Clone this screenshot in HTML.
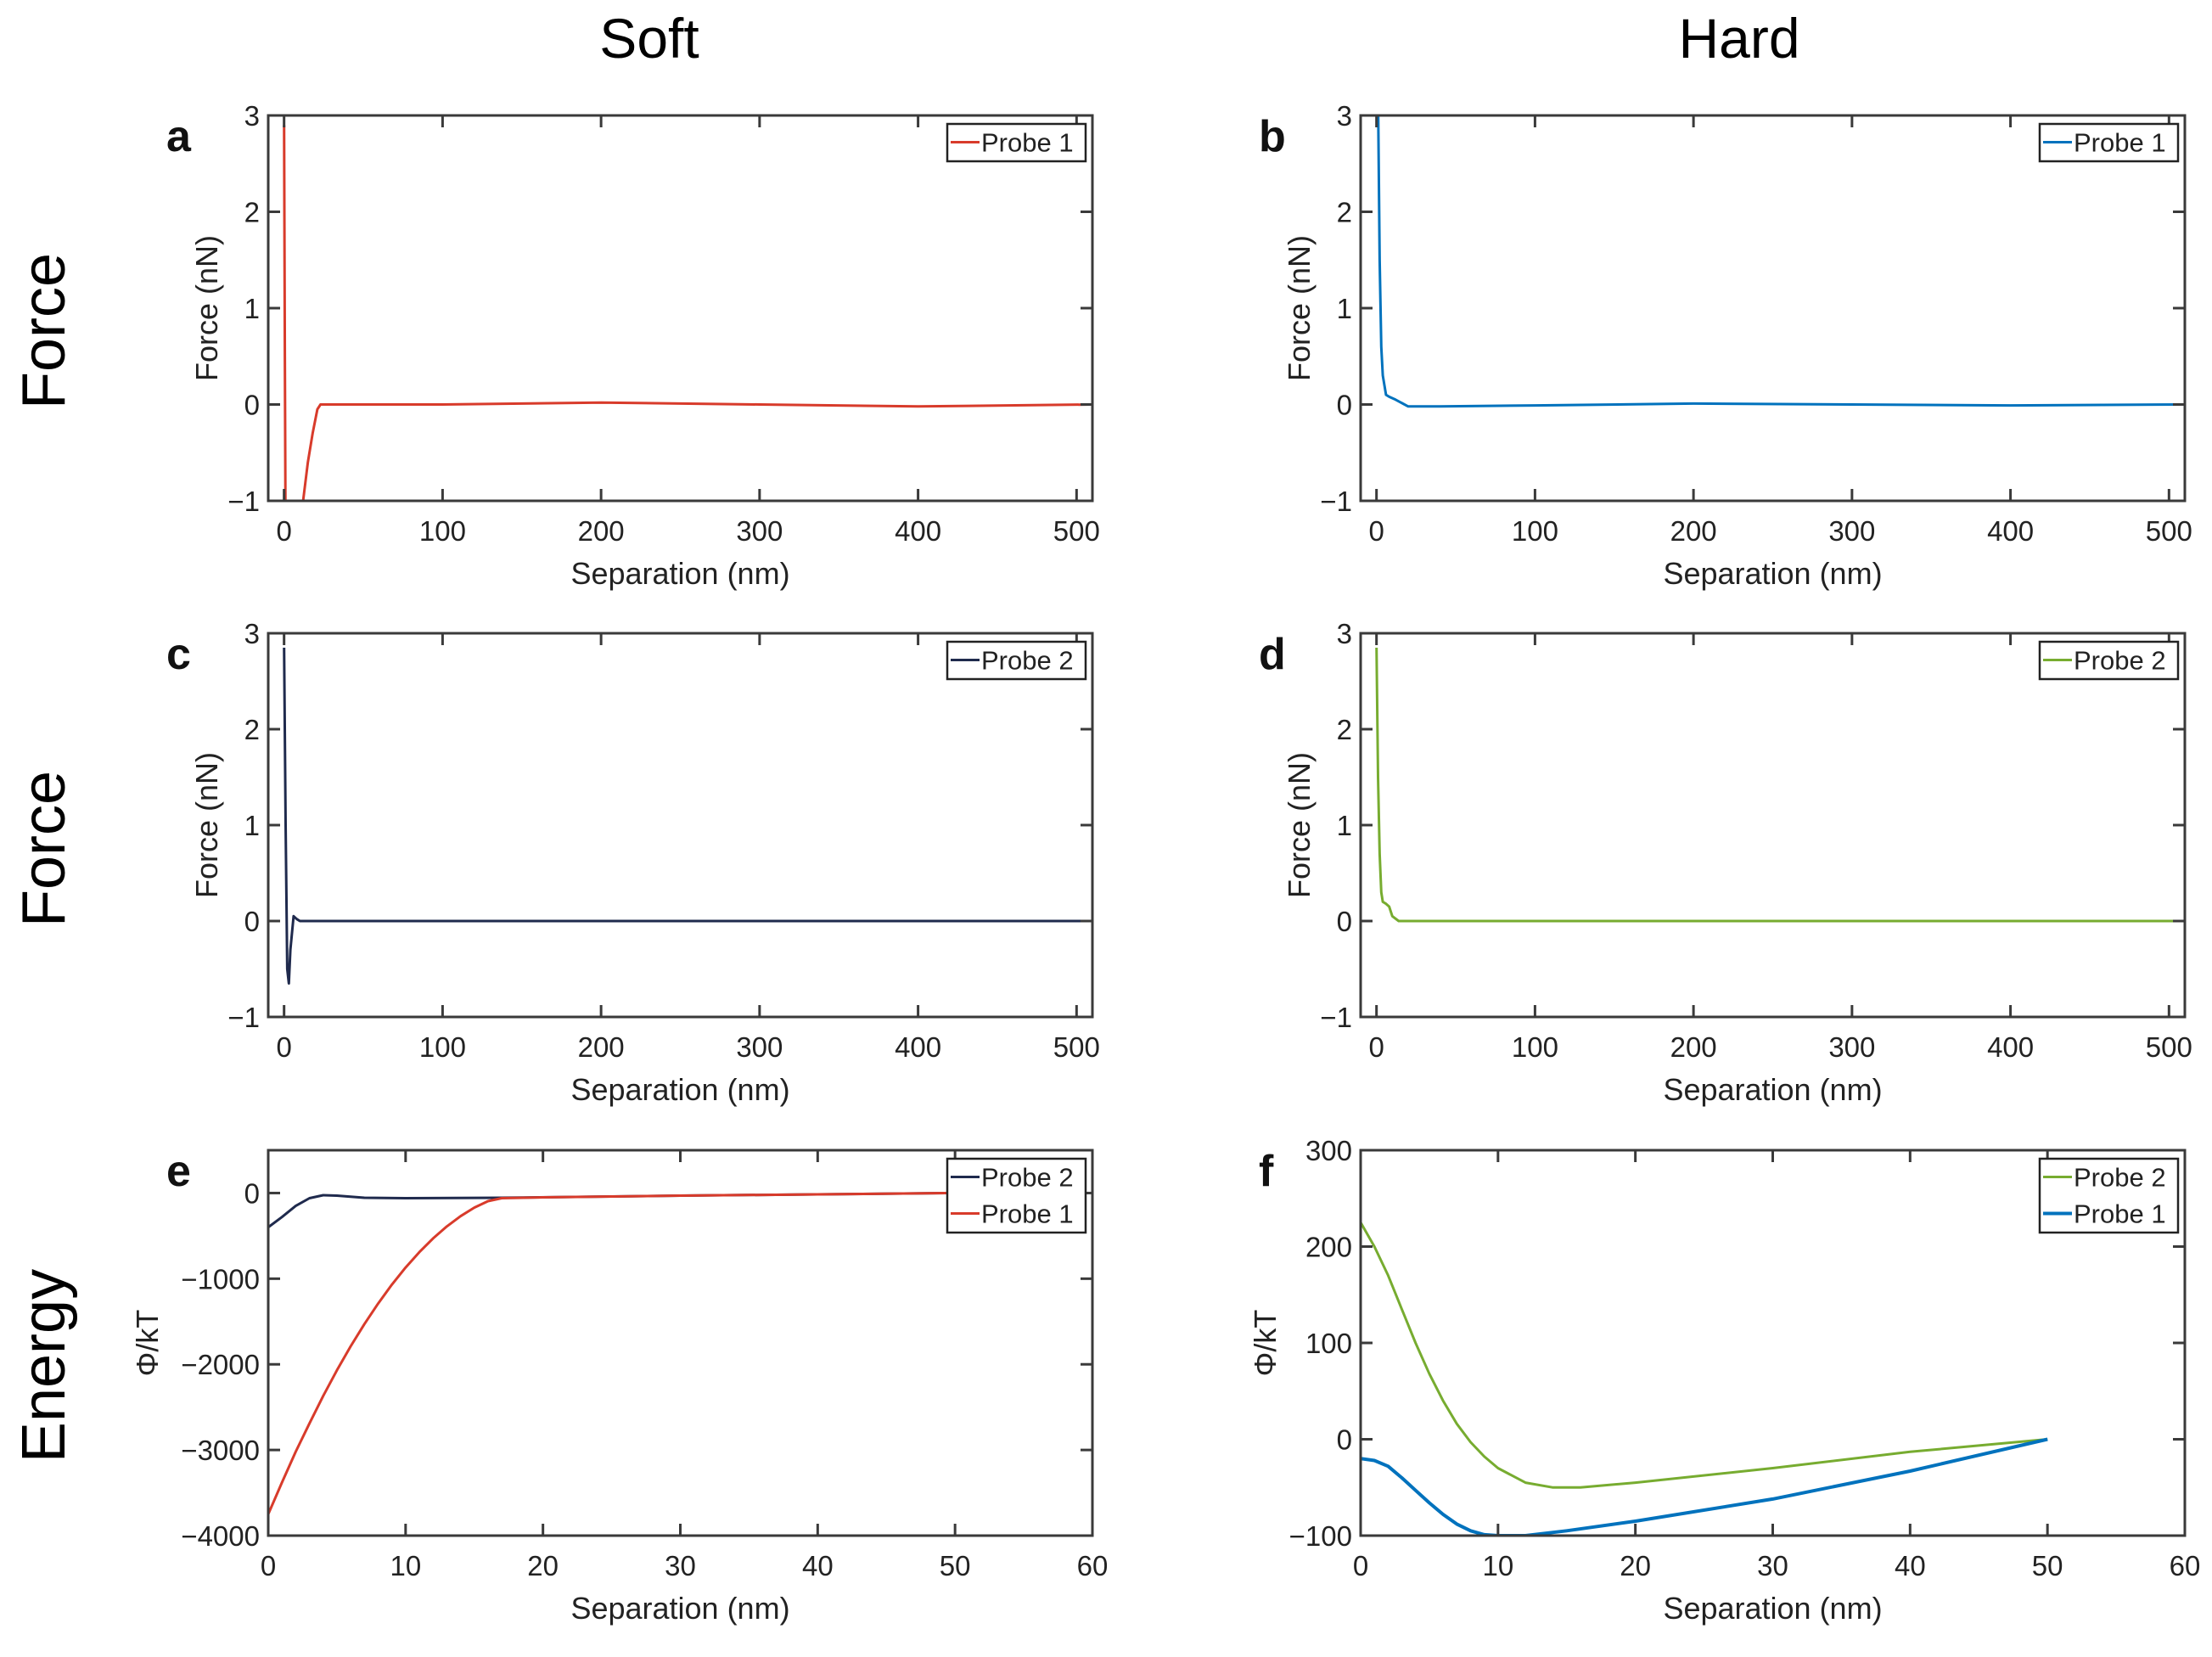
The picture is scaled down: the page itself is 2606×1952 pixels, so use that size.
<!DOCTYPE html>
<html><head><meta charset="utf-8"><style>
html,body{margin:0;padding:0;background:#fff;}
svg{display:block;font-family:"Liberation Sans",Arial,sans-serif;}
</style></head><body>
<svg id="fig" width="2606" height="1952" viewBox="0 0 2606 1952" xmlns="http://www.w3.org/2000/svg">
<text x="765" y="68" font-size="66" text-anchor="middle">Soft</text>
<text x="2049" y="68" font-size="66" text-anchor="middle">Hard</text>
<text transform="translate(76,390) rotate(-90)" font-size="72" text-anchor="middle">Force</text>
<text transform="translate(76,1000) rotate(-90)" font-size="72" text-anchor="middle">Force</text>
<text transform="translate(76,1609) rotate(-90)" font-size="72" text-anchor="middle">Energy</text>
</svg>
<script>
// ---- data ----
const forceXTicks=[0,100,200,300,400,500];
const forceYTicks=[-1,0,1,2,3];
const energyXTicks=[0,10,20,30,40,50,60];
const softEnergyYTicks=[-4000,-3000,-2000,-1000,0];
const hardEnergyYTicks=[-100,0,100,200,300];

const aX=[0,0.5,1,12,15,18,21,23,100,200,300,400,510];
const aY=[2.9,0.5,-1.5,-1,-0.6,-0.3,-0.05,0,0,0.02,0,-0.02,0];
const bX=[0,1,2,3,4,6,8,12,20,40,100,200,300,400,510];
const bY=[3.5,3.2,1.5,0.6,0.3,0.1,0.08,0.05,-0.02,-0.02,-0.01,0.01,0,-0.01,0];
const cX=[0,1,2,3,4,6,8,10,20,510];
const cY=[2.85,1,-0.5,-0.65,-0.3,0.05,0.02,0,0,0];
const dX=[0,1,2,3,4,6,8,10,14,20,510];
const dY=[2.85,1.5,0.7,0.3,0.2,0.18,0.15,0.05,0,0,0];
const eP2X=[0,1,2,3,4,5,7,10,17,30,40,50];
const eP2Y=[-400,-280,-150,-60,-25,-30,-55,-60,-55,-30,-15,0];
const eP1X=[0,1,2,3,4,5,6,7,8,9,10,11,12,13,14,15,16,17,20,30,40,50];
const eP1Y=[-3750,-3380,-3020,-2690,-2370,-2070,-1790,-1530,-1290,-1070,-870,-690,-530,-390,-270,-170,-95,-60,-50,-30,-15,0];
const fP2X=[0,1,2,3,4,5,6,7,8,9,10,12,14,16,20,30,40,50];
const fP2Y=[225,200,170,135,100,68,40,16,-3,-18,-30,-45,-50,-50,-45,-30,-13,0];
const fP1X=[0,1,2,3,4,5,6,7,8,9,10,12,15,20,30,40,50];
const fP1Y=[-20,-22,-28,-40,-53,-66,-78,-88,-95,-99,-100,-100,-95,-85,-62,-33,0];

const RED='#d83b2b', BLUE='#0072bd', NAVY='#1f2a4d', GREEN='#77ac30';
const NS='http://www.w3.org/2000/svg';
const svg=document.getElementById('fig');
function mk(tag,attrs,parent){const e=document.createElementNS(NS,tag);for(const k in attrs)e.setAttribute(k,attrs[k]);(parent||svg).appendChild(e);return e;}
let clipId=0;
function panel(o){
  const g=mk('g',{});
  
  
  const sx=v=>o.x0+(v-o.xlim[0])/(o.xlim[1]-o.xlim[0])*(o.x1-o.x0);
  const sy=v=>o.y1-(v-o.ylim[0])/(o.ylim[1]-o.ylim[0])*(o.y1-o.y0);
  const id='clip'+(clipId++);
  const cp=mk('clipPath',{id:id},g);
  mk('rect',{x:o.x0,y:o.y0,width:o.x1-o.x0,height:o.y1-o.y0},cp);
  o.series.forEach(s=>{
    const d=s.x.map((v,i)=>(i?'L':'M')+sx(v).toFixed(1)+','+sy(s.y[i]).toFixed(1)).join(' ');
    const p=mk('path',{d:d,fill:'none',stroke:s.color,'stroke-width':s.w||3,'stroke-linejoin':'round','clip-path':'url(#'+id+')'},g);
    
    
  });
  const bx=mk('rect',{x:o.x0,y:o.y0,width:o.x1-o.x0,height:o.y1-o.y0,fill:'none',stroke:'#3a3a3a','stroke-width':3},g);
  
  
  const tl=14;
  o.xt.forEach(v=>{const X=sx(v);
    mk('line',{x1:X,y1:o.y1,x2:X,y2:o.y1-tl,stroke:'#3a3a3a','stroke-width':3},g);
    mk('line',{x1:X,y1:o.y0,x2:X,y2:o.y0+tl,stroke:'#3a3a3a','stroke-width':3},g);
    const t=mk('text',{x:X,y:o.y1+47,'font-size':33,'text-anchor':'middle',fill:'#222'},g);t.textContent=v;
    
    
  });
  o.yt.forEach(v=>{const Y=sy(v);
    mk('line',{x1:o.x0,y1:Y,x2:o.x0+tl,y2:Y,stroke:'#3a3a3a','stroke-width':3},g);
    mk('line',{x1:o.x1,y1:Y,x2:o.x1-tl,y2:Y,stroke:'#3a3a3a','stroke-width':3},g);
    const t=mk('text',{x:o.x0-10,y:Y+12,'font-size':33,'text-anchor':'end',fill:'#222'},g);t.textContent=(v<0?'\u2212'+(-v):v);
    
    
  });
  const xl=mk('text',{x:(o.x0+o.x1)/2,y:o.y1+98,'font-size':36,'text-anchor':'middle',fill:'#222'},g);xl.textContent='Separation (nm)';
  
  
  const yl=mk('text',{transform:'translate('+(o.x0-o.yoff)+','+((o.y0+o.y1)/2)+') rotate(-90)','font-size':36,'text-anchor':'middle',fill:'#222'},g);yl.textContent=o.ylabel;
  
  
  const lt=mk('text',{x:o.x0-120,y:o.y0+42,'font-size':52,'font-weight':'bold',fill:'#111'},g);lt.textContent=o.letter;
  
  
  const n=o.series.length, lh=43, lw=163;
  const lx=o.x1-lw-8, ly=o.y0+10;
  const lg=mk('g',{},g);
  
  
  mk('rect',{x:lx,y:ly,width:lw,height:n*lh+1,fill:'#fff',stroke:'#222','stroke-width':2.5},lg);
  o.series.forEach((s,i)=>{const cy=ly+lh/2+i*lh;
    mk('line',{x1:lx+4,y1:cy,x2:lx+38,y2:cy,stroke:s.color,'stroke-width':s.w||3},lg);
    const t=mk('text',{x:lx+40,y:cy+11,'font-size':31,fill:'#222'},lg);t.textContent=s.name;
    
    
  });
}
const L=[316,1287], R=[1603,2574];
const r1=[136,590], r2=[746,1198], r3=[1355,1809];
panel({letter:'a',yoff:60,x0:L[0],x1:L[1],y0:r1[0],y1:r1[1],xlim:[-10,510],ylim:[-1,3],xt:forceXTicks,yt:forceYTicks,ylabel:'Force (nN)',series:[{name:'Probe 1',x:aX,y:aY,color:RED}]});
panel({letter:'b',yoff:60,x0:R[0],x1:R[1],y0:r1[0],y1:r1[1],xlim:[-10,510],ylim:[-1,3],xt:forceXTicks,yt:forceYTicks,ylabel:'Force (nN)',series:[{name:'Probe 1',x:bX,y:bY,color:BLUE}]});
panel({letter:'c',yoff:60,x0:L[0],x1:L[1],y0:r2[0],y1:r2[1],xlim:[-10,510],ylim:[-1,3],xt:forceXTicks,yt:forceYTicks,ylabel:'Force (nN)',series:[{name:'Probe 2',x:cX,y:cY,color:NAVY}]});
panel({letter:'d',yoff:60,x0:R[0],x1:R[1],y0:r2[0],y1:r2[1],xlim:[-10,510],ylim:[-1,3],xt:forceXTicks,yt:forceYTicks,ylabel:'Force (nN)',series:[{name:'Probe 2',x:dX,y:dY,color:GREEN}]});
panel({letter:'e',yoff:130,x0:L[0],x1:L[1],y0:r3[0],y1:r3[1],xlim:[0,60],ylim:[-4000,500],xt:energyXTicks,yt:softEnergyYTicks,ylabel:'\u03A6/kT',series:[{name:'Probe 2',x:eP2X,y:eP2Y,color:NAVY},{name:'Probe 1',x:eP1X,y:eP1Y,color:RED}]});
panel({letter:'f',yoff:100,x0:R[0],x1:R[1],y0:r3[0],y1:r3[1],xlim:[0,60],ylim:[-100,300],xt:energyXTicks,yt:hardEnergyYTicks,ylabel:'\u03A6/kT',series:[{name:'Probe 2',x:fP2X,y:fP2Y,color:GREEN},{name:'Probe 1',x:fP1X,y:fP1Y,color:BLUE,w:4}]});
</script>
</body></html>
